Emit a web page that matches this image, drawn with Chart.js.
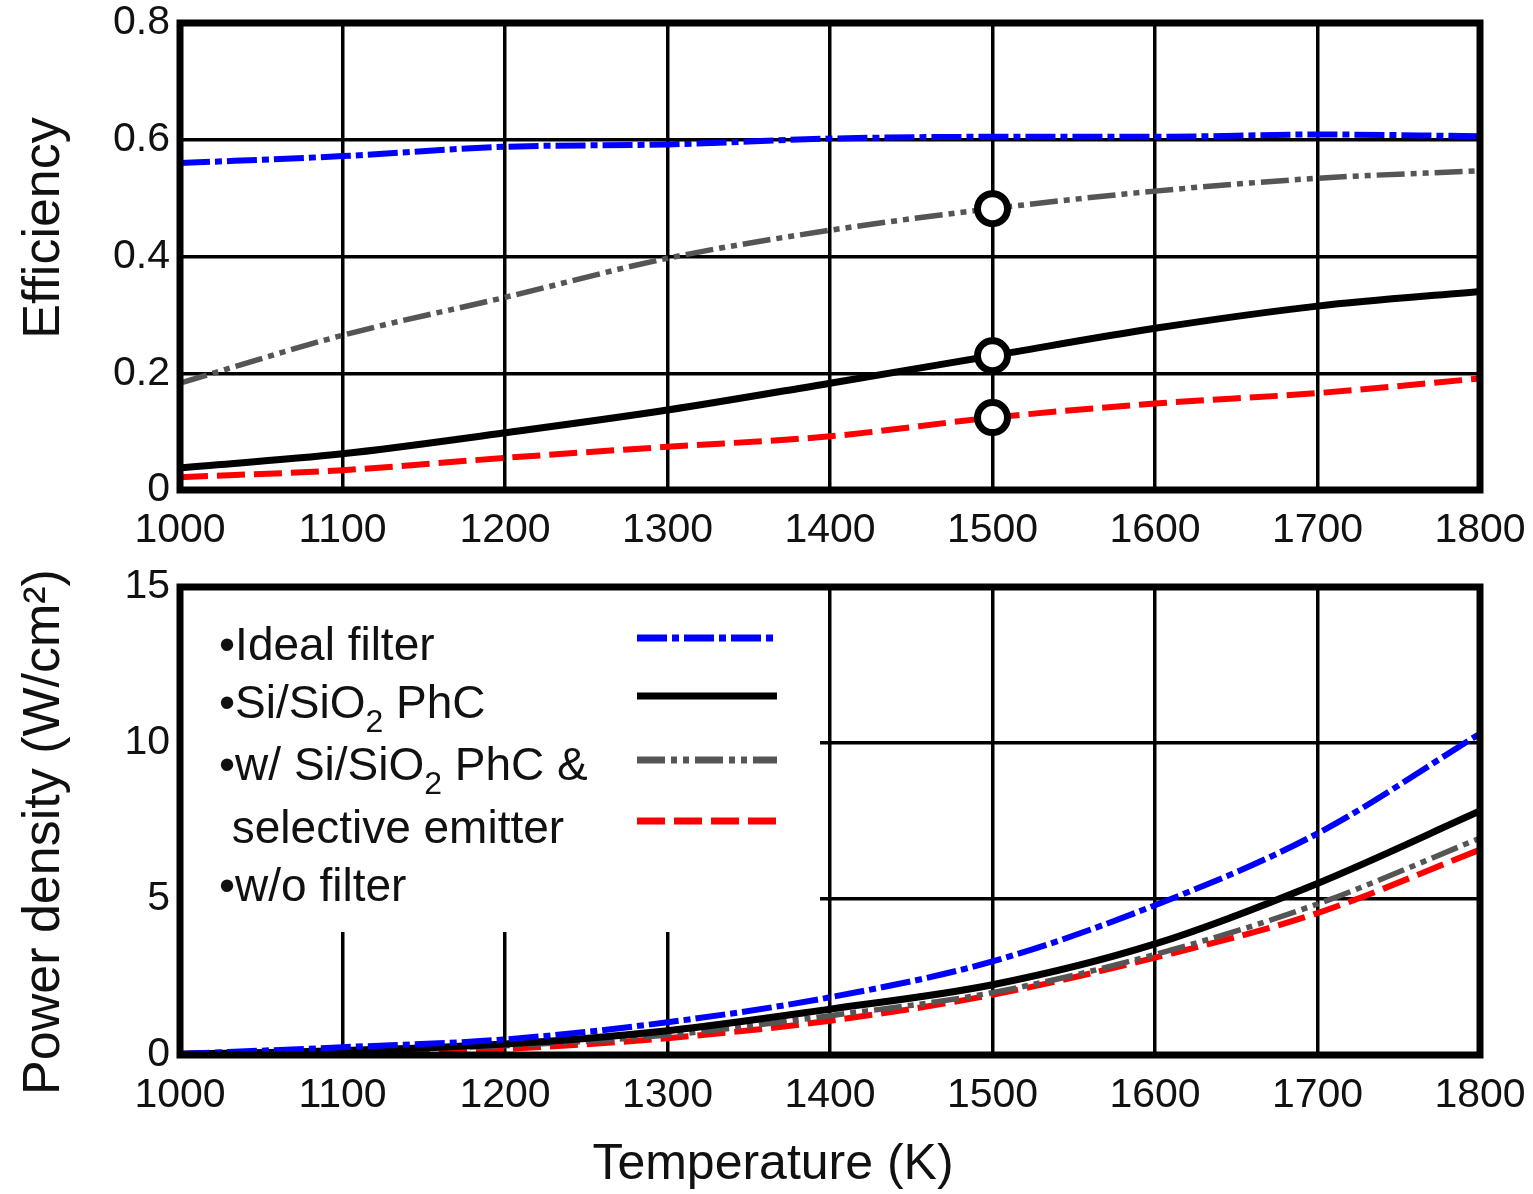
<!DOCTYPE html>
<html lang="en">
<head>
  <meta charset="UTF-8" />
  <title>Efficiency and Power Density vs Temperature</title>
  <script src="https://cdn.jsdelivr.net/npm/chart.js"></script>
  <style>
    html, body {
      margin: 0;
      padding: 0;
      background: #fff;
    }
    body {
      width: 1533px;
      height: 1194px;
      position: relative;
      overflow: hidden;
    }
    #effChart {
      position: absolute;
      left: 0;
      top: 0;
    }
    #powerChart {
      position: absolute;
      left: 0;
      top: 560px;
    }
  </style>
</head>
<body>

  <canvas id="effChart" width="1533" height="560"></canvas>
  <canvas id="powerChart" width="1533" height="634"></canvas>

  <script>
    // temperatures (K)
    const temps = [1000, 1100, 1200, 1300, 1400, 1500, 1600, 1700, 1800];

    // efficiency, top panel
    const effIdeal     = [0.560, 0.572, 0.588, 0.592, 0.602, 0.605, 0.605, 0.609, 0.606];
    const effPhC       = [0.038, 0.062, 0.098, 0.137, 0.183, 0.230, 0.277, 0.315, 0.340];
    const effSelective = [0.183, 0.265, 0.330, 0.397, 0.445, 0.482, 0.512, 0.534, 0.547];
    const effNoFilter  = [0.022, 0.034, 0.055, 0.074, 0.092, 0.124, 0.148, 0.166, 0.191];

    // power density (W/cm2), bottom panel
    const powIdeal     = [0.03, 0.25, 0.50, 1.05, 1.85, 3.00, 4.80, 7.10, 10.30];
    const powPhC       = [0.03, 0.14, 0.35, 0.78, 1.47, 2.25, 3.56, 5.50, 7.82];
    const powSelective = [0.03, 0.16, 0.30, 0.64, 1.26, 2.00, 3.22, 4.84, 6.95];
    const powNoFilter  = [0.00, 0.08, 0.20, 0.54, 1.10, 1.93, 3.12, 4.55, 6.58];

    // marked operating point
    const markedTemp = 1500;

    const effTicks = [0, 0.2, 0.4, 0.6, 0.8];
    const powTicks = [0, 5, 10, 15];

    const legendRows = [
      [['•Ideal filter']],
      [['•Si/SiO'], ['2', true], [' PhC']],
      [['•w/ Si/SiO'], ['2', true], [' PhC &']],
      [[' selective emitter']],
      [['•w/o filter']]
    ];

    const FONT = "'Liberation Sans', Arial, sans-serif";
    const TEXT = '#111';

    const styles = {
      ideal:     { color: '#0000ff', dash: [30, 5, 7, 5], width: 6 },
      phc:       { color: '#000000', dash: [], width: 7 },
      selective: { color: '#555555', dash: [28, 6, 6, 6, 6, 6], width: 5.5 },
      noFilter:  { color: '#ff0000', dash: [28, 9], width: 6 }
    };

    function makeSet(label, values, st, circled) {
      return {
        label: label,
        data: temps.map((t, i) => ({ x: t, y: values[i] })),
        borderColor: st.color,
        borderWidth: st.width,
        borderDash: st.dash,
        fill: false,
        cubicInterpolationMode: 'monotone',
        pointRadius: temps.map(t => (circled && t === markedTemp) ? 15 : 0),
        pointBorderWidth: 7,
        pointBorderColor: '#000',
        pointBackgroundColor: '#fff',
        legendDash: st.dash
      };
    }

    const framePlugin = {
      id: 'frame',
      afterDraw(chart) {
        const { ctx, chartArea: a } = chart;
        ctx.save();
        ctx.strokeStyle = '#000';
        ctx.lineWidth = 7;
        ctx.setLineDash([]);
        ctx.strokeRect(a.left, a.top, a.right - a.left, a.bottom - a.top);
        ctx.restore();
      }
    };

    // axis titles, placed as in the original figure
    const axisTitles = {
      id: 'axisTitles',
      afterDraw(chart, args, opts) {
        const ctx = chart.ctx;
        ctx.save();
        ctx.fillStyle = TEXT;
        ctx.textAlign = 'center';
        ctx.textBaseline = 'middle';
        (opts.items || []).forEach(it => {
          ctx.save();
          ctx.font = it.size + 'px ' + FONT;
          ctx.translate(it.x, it.y);
          if (it.rotate) ctx.rotate(-Math.PI / 2);
          ctx.fillText(it.text, 0, 0);
          ctx.restore();
        });
        ctx.restore();
      }
    };

    const boxLegend = {
      id: 'boxLegend',
      beforeDatasetsDraw(chart) {
        const { ctx, chartArea: a } = chart;
        ctx.save();
        ctx.fillStyle = '#fff';
        ctx.fillRect(a.left, a.top, 640, 345);
        ctx.restore();
      },
      afterDatasetsDraw(chart) {
        const { ctx, chartArea: a } = chart;
        const baselines = [73, 131, 193, 256, 314];
        ctx.save();
        ctx.fillStyle = TEXT;
        ctx.textBaseline = 'alphabetic';
        legendRows.forEach((row, r) => {
          let x = 219;
          const y = a.top + baselines[r];
          row.forEach(part => {
            const sub = part[1] === true;
            ctx.font = (sub ? '32px ' : '46px ') + FONT;
            ctx.fillText(part[0], x, sub ? y + 14 : y);
            x += ctx.measureText(part[0]).width;
          });
        });
        const sampleY = [51, 109, 173, 234];
        chart.data.datasets.forEach((ds, i) => {
          ctx.beginPath();
          ctx.strokeStyle = ds.borderColor;
          ctx.lineWidth = 7;
          ctx.setLineDash(ds.legendDash);
          ctx.moveTo(637, a.top + sampleY[i]);
          ctx.lineTo(777, a.top + sampleY[i]);
          ctx.stroke();
        });
        ctx.restore();
      }
    };

    function xScale(height) {
      return {
        type: 'linear',
        min: 1000,
        max: 1800,
        afterFit: s => { s.height = height; s.paddingLeft = 0; s.paddingRight = 0; },
        grid: { color: '#000', lineWidth: 3.5, drawTicks: false },
        border: { display: false },
        ticks: {
          stepSize: 100,
          padding: 16,
          color: TEXT,
          font: { family: FONT, size: 41 },
          callback: v => String(v)
        }
      };
    }

    function yScale(max, step, tickVals) {
      return {
        type: 'linear',
        min: 0,
        max: max,
        afterFit: s => { s.width = 180; s.paddingTop = 0; s.paddingBottom = 0; },
        afterBuildTicks: s => { s.ticks = tickVals.map(v => ({ value: v })); },
        grid: { color: '#000', lineWidth: 3.5, drawTicks: false },
        border: { display: false },
        ticks: {
          stepSize: step,
          padding: 10,
          color: TEXT,
          font: { family: FONT, size: 41 },
          callback: v => String(v)
        }
      };
    }

    new Chart(document.getElementById('effChart').getContext('2d'), {
      type: 'line',
      data: {
        datasets: [
          makeSet('Ideal filter', effIdeal, styles.ideal, false),
          makeSet('Si/SiO2 PhC', effPhC, styles.phc, true),
          makeSet('w/ Si/SiO2 PhC & selective emitter', effSelective, styles.selective, true),
          makeSet('w/o filter', effNoFilter, styles.noFilter, true)
        ]
      },
      options: {
        responsive: false,
        animation: false,
        layout: { padding: { left: 0, right: 53, top: 23, bottom: 0 } },
        plugins: {
          legend: { display: false },
          tooltip: { enabled: false },
          axisTitles: { items: [{ text: 'Efficiency', x: 45, y: 228, size: 52, rotate: true }] }
        },
        scales: {
          x: xScale(70),
          y: yScale(0.8, 0.2, effTicks)
        }
      },
      plugins: [framePlugin, axisTitles]
    });

    new Chart(document.getElementById('powerChart').getContext('2d'), {
      type: 'line',
      data: {
        datasets: [
          makeSet('Ideal filter', powIdeal, styles.ideal, false),
          makeSet('Si/SiO2 PhC', powPhC, styles.phc, false),
          makeSet('w/ Si/SiO2 PhC & selective emitter', powSelective, styles.selective, false),
          makeSet('w/o filter', powNoFilter, styles.noFilter, false)
        ]
      },
      options: {
        responsive: false,
        animation: false,
        layout: { padding: { left: 0, right: 53, top: 27, bottom: 0 } },
        plugins: {
          legend: { display: false },
          tooltip: { enabled: false },
          axisTitles: {
            items: [
              { text: 'Power density (W/cm²)', x: 45, y: 272, size: 52, rotate: true },
              { text: 'Temperature (K)', x: 773, y: 605, size: 50, rotate: false }
            ]
          }
        },
        scales: {
          x: xScale(139),
          y: yScale(15, 5, powTicks)
        }
      },
      plugins: [boxLegend, framePlugin, axisTitles]
    });
  </script>

</body>
</html>
